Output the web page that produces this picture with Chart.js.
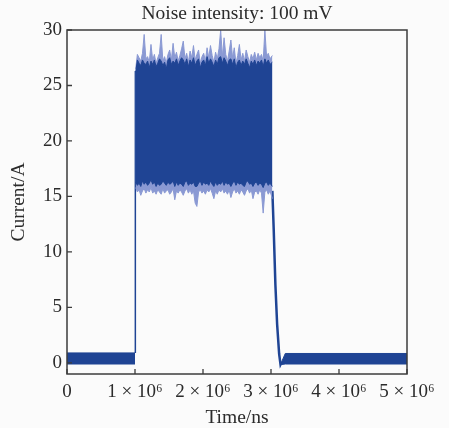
<!DOCTYPE html>
<html><head><meta charset="utf-8">
<script src="https://cdn.jsdelivr.net/npm/chart.js@4/dist/chart.umd.min.js"></script>
<style>html,body{margin:0;padding:0;background:#fbfbfb;}canvas{display:block;}</style>
</head><body>
<canvas id="c" width="449" height="428"></canvas>
<script>
// Time values are in units of 10^6 ns (axis ticks read "n × 10⁶")
const titleText = "Noise intensity: 100 mV";
const xTitle = "Time/ns";
const yTitle = "Current/A";
const xTickValues = [0, 1, 2, 3, 4, 5];
const xTickLabels = ["0", "1 × 10⁶", "2 × 10⁶", "3 × 10⁶", "4 × 10⁶", "5 × 10⁶"];
const yTickValues = [0, 5, 10, 15, 20, 25, 30];
const yTickLabels = ["0", "5", "10", "15", "20", "25", "30"];

// low-level noise band before the pulse
const preTimeE6 = [0, 1.0];
const preUpper = [0.9, 0.9];
const preLower = [-0.1, -0.1];

// rising edge
const riseTimeE6 = [1.005, 1.005];
const riseCurrent = [0.9, 26.3];

// noisy high-level segment: envelopes of dense region and of light spikes
const noiseTimeE6 = [
 1.010,1.035,1.060,1.085,1.110,1.135,1.160,1.185,1.210,1.235,
 1.260,1.285,1.310,1.335,1.360,1.385,1.410,1.435,1.460,1.485,
 1.510,1.535,1.560,1.585,1.610,1.635,1.660,1.685,1.710,1.735,
 1.760,1.785,1.810,1.835,1.860,1.885,1.910,1.935,1.960,1.985,
 2.010,2.035,2.060,2.085,2.110,2.135,2.160,2.185,2.210,2.235,
 2.260,2.285,2.310,2.335,2.360,2.385,2.410,2.435,2.460,2.485,
 2.510,2.535,2.560,2.585,2.610,2.635,2.660,2.685,2.710,2.735,
 2.760,2.785,2.810,2.835,2.860,2.885,2.910,2.935,2.960,2.985,
 3.020];
const denseUpper = [
 26.2,27.3,27.0,26.8,27.3,27.0,26.9,27.2,26.6,27.2,
 26.9,27.3,26.7,27.0,27.4,27.2,26.8,27.1,26.5,27.3,
 27.5,26.9,27.2,27.0,27.4,26.8,27.2,27.5,27.3,26.9,
 27.4,26.7,27.3,27.0,27.5,26.8,27.2,27.4,26.6,27.1,
 27.3,26.8,27.6,27.0,27.4,27.1,26.7,27.3,26.9,27.5,
 27.6,27.0,27.5,27.2,26.8,27.3,27.4,26.9,27.4,26.6,
 27.1,27.3,26.8,27.2,26.9,27.4,27.0,26.6,27.2,26.9,
 27.3,26.8,27.2,27.0,27.3,26.7,27.4,27.0,27.3,26.9,
 27.1];
const spikeUpper = [
 26.5,27.8,27.5,27.2,27.9,29.6,27.4,27.6,27.1,28.7,
 27.3,27.8,27.0,27.5,27.9,29.6,27.2,27.6,27.0,27.8,
 28.2,27.3,28.8,27.5,28.0,27.2,27.7,28.3,29.0,27.4,
 27.9,27.1,28.1,27.5,28.6,27.3,27.8,28.2,27.0,27.6,
 27.9,27.2,28.4,27.5,28.6,27.7,27.1,28.0,27.4,28.3,
 30.0,27.6,29.3,27.8,27.2,28.1,29.1,27.5,28.4,27.0,
 27.7,28.7,27.3,27.9,27.2,28.2,27.6,27.1,27.8,27.4,
 28.0,27.3,27.9,27.5,27.8,27.2,30.0,27.6,27.9,27.4,
 27.7];
const denseLower = [
 16.3,16.0,16.2,15.9,16.4,16.1,16.3,16.0,16.2,16.5,
 16.1,16.3,15.9,16.2,16.0,16.1,16.4,16.2,16.0,16.3,
 16.1,16.2,16.4,15.9,16.3,16.0,16.2,16.1,15.9,16.3,
 16.4,16.0,16.2,16.1,16.3,15.9,15.9,16.2,16.4,16.0,
 16.3,16.1,16.2,16.0,16.4,16.1,15.9,16.3,16.0,16.2,
 16.1,16.4,16.0,16.3,16.1,16.2,15.9,16.2,16.4,16.0,
 16.3,16.1,16.2,16.0,15.9,16.3,16.4,16.1,16.2,15.9,
 16.2,16.3,16.0,16.2,16.1,15.8,16.2,16.3,16.0,16.2,
 15.9];
const spikeLower = [
 15.8,15.4,15.6,15.1,15.5,15.7,15.3,15.6,15.4,15.8,
 15.3,15.5,15.2,15.6,15.4,15.2,15.7,15.3,15.5,15.6,
 15.2,15.4,15.7,14.7,15.5,15.3,15.6,15.4,15.1,15.5,
 15.7,15.3,15.6,15.2,15.5,14.4,14.1,15.4,15.6,15.3,
 15.5,15.2,15.6,15.4,15.7,15.3,14.8,15.5,15.2,15.6,
 15.4,15.7,15.3,15.5,15.2,15.6,14.9,15.4,15.7,15.3,
 15.5,15.2,15.6,15.4,15.1,15.5,15.7,15.3,15.6,14.8,
 15.4,15.5,15.2,15.6,15.3,13.5,15.4,15.6,15.2,15.5,
 14.8];

// falling edge
const fallTimeE6 = [3.02, 3.04, 3.065, 3.09, 3.12, 3.14, 3.16];
const fallCurrent = [15.5, 12.0, 7.0, 3.5, 0.8, -0.15, 0.1];

// low-level noise band after the pulse
const postTimeE6 = [3.15, 3.21, 5.0];
const postUpper = [0.0, 0.85, 0.85];
const postLower = [-0.15, -0.1, -0.1];

const DARK = '#1f4494';
const LIGHT = '#8a99d3';
const TEXT = '#2b2b2b';
const SERIF = '"Liberation Serif", "Times New Roman", serif';
const TICK_FONT = { family: SERIF, size: 19 };
const TITLE_FONT = { family: SERIF, size: 19.5 };

function pts(xs, ys) { return xs.map((x, i) => ({ x: x, y: ys[i] })); }
function band(xs, ys, color, fill, width) {
  return { data: pts(xs, ys), borderColor: color, backgroundColor: color,
           borderWidth: width, fill: fill, pointRadius: 0, tension: 0 };
}

const framePlugin = {
  id: 'frame',
  afterDraw(chart) {
    const { ctx, chartArea: a, scales } = chart;
    ctx.save();
    ctx.strokeStyle = '#3c3c3c';
    ctx.lineWidth = 1.5;
    ctx.strokeRect(a.left, a.top, a.right - a.left, a.bottom - a.top);
    ctx.lineWidth = 1.3;
    ctx.beginPath();
    xTickValues.forEach(v => { const px = scales.x.getPixelForValue(v); ctx.moveTo(px, a.bottom); ctx.lineTo(px, a.bottom - 5); });
    yTickValues.forEach(v => { const py = scales.y.getPixelForValue(v); ctx.moveTo(a.left, py); ctx.lineTo(a.left + 5, py); });
    ctx.stroke();
    ctx.restore();
  }
};

new Chart(document.getElementById('c'), {
  type: 'line',
  data: {
    datasets: [
      band(noiseTimeE6, denseUpper, DARK, '+1', 1),
      band(noiseTimeE6, denseLower, DARK, false, 1),
      band(noiseTimeE6, spikeUpper, LIGHT, '+1', 1),
      band(noiseTimeE6, spikeLower, LIGHT, false, 1),
      band(preTimeE6, preUpper, DARK, '+1', 1),
      band(preTimeE6, preLower, DARK, false, 1),
      band(postTimeE6, postUpper, DARK, '+1', 1),
      band(postTimeE6, postLower, DARK, false, 1),
      band(riseTimeE6, riseCurrent, DARK, false, 1.5),
      band(fallTimeE6, fallCurrent, DARK, false, 2.5)
    ]
  },
  options: {
    responsive: false,
    animation: false,
    devicePixelRatio: 1,
    layout: { padding: { left: 0, right: 42, top: 0, bottom: 0 } },
    plugins: {
      legend: { display: false },
      tooltip: { enabled: false },
      title: { display: true, text: titleText, fullSize: false, color: TEXT,
               font: { family: SERIF, size: 19.5, weight: 'normal', lineHeight: 1.2 }, padding: { top: 2, bottom: 4.6 } }
    },
    scales: {
      x: {
        type: 'linear', min: 0, max: 5,
        afterBuildTicks(s) { s.ticks = xTickValues.map(v => ({ value: v })); },
        ticks: { callback: (v, i) => xTickLabels[i], color: TEXT, font: TICK_FONT,
                 padding: 7, maxRotation: 0, autoSkip: false },
        grid: { display: false, drawTicks: false }, border: { display: false },
        title: { display: true, text: xTitle, color: TEXT, font: { family: SERIF, size: 19.5, lineHeight: 1.0 }, padding: { top: 0, bottom: 0 } },
        afterFit(s) { s.height = 54; }
      },
      y: {
        type: 'linear', min: -1, max: 30,
        afterBuildTicks(s) { s.ticks = yTickValues.map(v => ({ value: v })); },
        ticks: { callback: (v, i) => yTickLabels[i], color: TEXT, font: TICK_FONT, padding: 5 },
        grid: { display: false, drawTicks: false }, border: { display: false },
        title: { display: true, text: yTitle, color: TEXT, font: TITLE_FONT, padding: { top: 7.5, bottom: 0 } },
        afterFit(s) { s.width = 67; }
      }
    }
  },
  plugins: [framePlugin]
});
</script>
</body></html>
